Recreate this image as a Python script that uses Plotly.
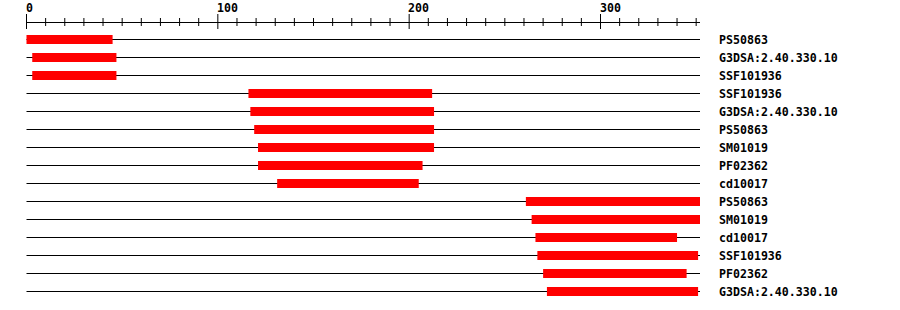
import plotly.graph_objects as go

# ---- data ----
seq_length = 352
labels = ["PS50863", "G3DSA:2.40.330.10", "SSF101936", "SSF101936", "G3DSA:2.40.330.10",
          "PS50863", "SM01019", "PF02362", "cd10017", "PS50863", "SM01019", "cd10017",
          "SSF101936", "PF02362", "G3DSA:2.40.330.10"]
starts = [0, 3, 3, 116, 117, 119, 121, 121, 131, 261, 264, 266, 267, 270, 272]
ends = [45, 47, 47, 212, 213, 213, 213, 207, 205, 352, 352, 340, 351, 345, 351]
major_ticks = [0, 100, 200, 300]
minor_ticks = [v for v in range(0, 351, 10) if v not in major_ticks]
tick_labels = ["0", "100", "200", "300"]

# ---- layout helpers ----
W, H = 900, 310
X0PX, SCALE = 26.5, 673.5 / 352
ROW0PX, ROWPX = 39.5, 18.0


def py(p):
    return (p - ROW0PX) / ROWPX


FONT = dict(family="DejaVu Sans Mono", size=11.6, color="black")

rows = list(range(len(labels)))
fig = go.Figure()
fig.add_trace(go.Bar(
    y=rows, x=[e - s for s, e in zip(starts, ends)], base=starts,
    orientation="h", width=9 / ROWPX,
    marker=dict(color="#ff0000", line=dict(width=0)),
    hoverinfo="skip", showlegend=False,
))

shapes = []
annotations = []
for r, lab in zip(rows, labels):
    shapes.append(dict(type="line", xref="x", yref="y", x0=0, x1=seq_length, y0=r, y1=r,
                       line=dict(color="black", width=1), layer="below"))
    annotations.append(dict(x=seq_length, y=r, xref="x", yref="y", text="<b>%s</b>" % lab,
                            showarrow=False, xanchor="left", yanchor="middle", xshift=17,
                            font=FONT))

# top axis
ya = py(22.5)
shapes.append(dict(type="line", xref="x", yref="y", x0=0, x1=seq_length, y0=ya, y1=ya,
                   line=dict(color="black", width=1)))
for v in major_ticks:
    shapes.append(dict(type="line", xref="x", yref="y", x0=v, x1=v, y0=py(14), y1=py(29),
                       line=dict(color="black", width=1)))
for v in minor_ticks:
    shapes.append(dict(type="line", xref="x", yref="y", x0=v, x1=v, y0=py(18), y1=py(26),
                       line=dict(color="black", width=1)))
for v, t in zip(major_ticks, tick_labels):
    annotations.append(dict(x=v, y=py(8), xref="x", yref="y", text="<b>%s</b>" % t,
                            showarrow=False, xanchor="left", yanchor="middle", xshift=-3,
                            font=FONT))

fig.update_layout(
    width=W, height=H, margin=dict(l=0, r=0, t=0, b=0),
    paper_bgcolor="white", plot_bgcolor="white",
    xaxis=dict(range=[-X0PX / SCALE, (W - X0PX) / SCALE], visible=False, fixedrange=True),
    yaxis=dict(range=[py(H), py(0)], visible=False, fixedrange=True),
    shapes=shapes, annotations=annotations, showlegend=False,
)

fig.write_html("out.html")
